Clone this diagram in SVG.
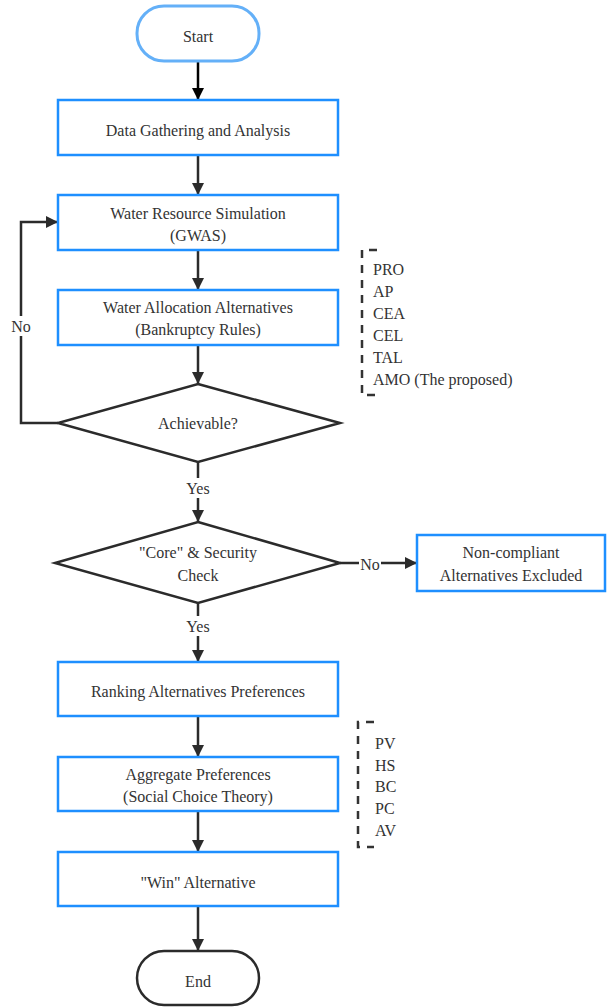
<svg xmlns="http://www.w3.org/2000/svg" width="607" height="1007" viewBox="0 0 607 1007">
<style>
.box{fill:#fff;stroke:#1e8fff;stroke-width:2.5}
.dia{fill:#fff;stroke:#2b2b2b;stroke-width:2.5}
.t{font-size:16px;fill:#333;text-anchor:middle}
.l{font-size:16px;fill:#333}
.c{fill:none;stroke:#2b2b2b;stroke-width:2.5}
.br{fill:none;stroke:#333;stroke-width:2.5;stroke-dasharray:8 7}
</style>
<defs>
<marker id="ah" viewBox="0 0 10 10" refX="10" refY="5" markerWidth="5" markerHeight="5" markerUnits="strokeWidth" orient="auto">
<path d="M0,0 L10,5 L0,10 z" fill="#2b2b2b"/>
</marker>
<marker id="ahb" viewBox="0 0 10 10" refX="10" refY="5" markerWidth="5" markerHeight="5" markerUnits="strokeWidth" orient="auto">
<path d="M0,0 L10,5 L0,10 z" fill="#000"/>
</marker>
</defs>
<g font-family="Liberation Serif, DejaVu Serif, serif">
<g id="connectors">
<line x1="198" y1="62" x2="198" y2="100" stroke="#000" stroke-width="2.5" marker-end="url(#ahb)"/>
<line class="c" x1="198" y1="155" x2="198" y2="195" marker-end="url(#ah)"/>
<line class="c" x1="198" y1="250" x2="198" y2="290" marker-end="url(#ah)"/>
<line class="c" x1="198" y1="345" x2="198" y2="384" marker-end="url(#ah)"/>
<polyline class="c" points="58,423 21,423 21,222 58,222" marker-end="url(#ah)"/>
<line class="c" x1="198" y1="462" x2="198" y2="522" marker-end="url(#ah)"/>
<line class="c" x1="340" y1="563" x2="417" y2="563" marker-end="url(#ah)"/>
<line class="c" x1="198" y1="603" x2="198" y2="662" marker-end="url(#ah)"/>
<line class="c" x1="198" y1="716" x2="198" y2="757" marker-end="url(#ah)"/>
<line class="c" x1="198" y1="811" x2="198" y2="852" marker-end="url(#ah)"/>
<line class="c" x1="198" y1="906" x2="198" y2="951" marker-end="url(#ah)"/>
<rect x="8" y="316" width="26" height="20" fill="#fff"/>
<text class="t" x="21" y="332">No</text>
<rect x="182" y="478" width="32" height="20" fill="#fff"/>
<text class="t" x="198" y="494">Yes</text>
<rect x="359" y="554" width="22" height="20" fill="#fff"/>
<text class="t" x="370" y="570">No</text>
<rect x="182" y="616" width="32" height="20" fill="#fff"/>
<text class="t" x="198" y="632">Yes</text>
</g>
<g id="start">
<rect x="137" y="6" width="122" height="55" rx="27" ry="27" fill="#fff" stroke="#64b0f8" stroke-width="3"/>
<text class="t" x="198" y="42">Start</text>
</g>
<g id="data">
<rect class="box" x="58" y="100" width="280" height="55"/>
<text class="t" x="198" y="136">Data Gathering and Analysis</text>
</g>
<g id="sim">
<rect class="box" x="58" y="195" width="280" height="55"/>
<text class="t" x="198" y="219">Water Resource Simulation</text>
<text class="t" x="198" y="241">(GWAS)</text>
</g>
<g id="alloc">
<rect class="box" x="58" y="290" width="280" height="55"/>
<text class="t" x="198" y="313">Water Allocation Alternatives</text>
<text class="t" x="198" y="335">(Bankruptcy Rules)</text>
</g>
<g id="rules">
<path class="br" d="M377,250 L362,250 L362,395 L377,395"/>
<text class="l" x="373" y="275">PRO</text>
<text class="l" x="373" y="297">AP</text>
<text class="l" x="373" y="319">CEA</text>
<text class="l" x="373" y="341">CEL</text>
<text class="l" x="373" y="363">TAL</text>
<text class="l" x="373" y="385">AMO (The proposed)</text>
</g>
<g id="achievable">
<polygon class="dia" points="198,384 340,423 198,462 58,423"/>
<text class="t" x="198" y="429">Achievable?</text>
</g>
<g id="core">
<polygon class="dia" points="198,522 340,563 198,603 55,563"/>
<text class="t" x="198" y="558">"Core" &amp; Security</text>
<text class="t" x="198" y="581">Check</text>
</g>
<g id="excluded">
<rect class="box" x="417" y="535" width="188" height="56"/>
<text class="t" x="511" y="558">Non-compliant</text>
<text class="t" x="511" y="581">Alternatives Excluded</text>
</g>
<g id="ranking">
<rect class="box" x="58" y="662" width="280" height="54"/>
<text class="t" x="198" y="697">Ranking Alternatives Preferences</text>
</g>
<g id="aggregate">
<rect class="box" x="58" y="757" width="280" height="54"/>
<text class="t" x="198" y="780">Aggregate Preferences</text>
<text class="t" x="198" y="802">(Social Choice Theory)</text>
</g>
<g id="methods">
<path class="br" d="M374,722 L358,722 L358,847 L374,847"/>
<text class="l" x="375" y="749">PV</text>
<text class="l" x="375" y="771">HS</text>
<text class="l" x="375" y="792">BC</text>
<text class="l" x="375" y="814">PC</text>
<text class="l" x="375" y="836">AV</text>
</g>
<g id="win">
<rect class="box" x="58" y="852" width="280" height="54"/>
<text class="t" x="198" y="888">"Win" Alternative</text>
</g>
<g id="end">
<rect x="137" y="951" width="122" height="54" rx="27" ry="27" fill="#fff" stroke="#2b2b2b" stroke-width="2.5"/>
<text class="t" x="198" y="987">End</text>
</g>
</g>
</svg>
